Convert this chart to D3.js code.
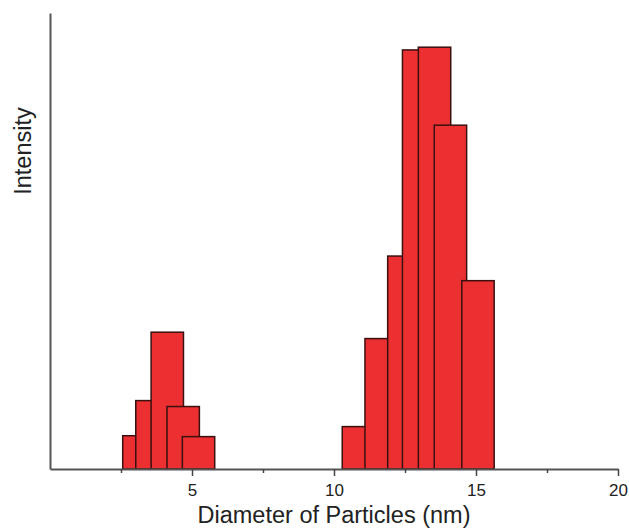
<!DOCTYPE html>
<html>
<head>
<meta charset="utf-8">
<script src="https://cdn.jsdelivr.net/npm/d3@7"></script>
<style>
  body { margin: 0; background: #fff; }
  text { font-family: "Liberation Sans", Arial, sans-serif; fill: #222; }
</style>
</head>
<body>
<script>
// particle size distribution (bar centres in nm, relative intensity)
var diameters = [3.13, 3.59, 4.13, 4.69, 5.23,
                 10.86, 11.66, 12.46, 12.98, 13.54, 14.10, 15.07];
var intensities = [7.3, 15.0, 30.0, 13.7, 7.1,
                   9.3, 28.6, 46.7, 91.9, 92.5, 75.4, 41.3];
var majorTicks = [5, 10, 15, 20];
var minorTicks = [2.5, 7.5, 12.5, 17.5];
var xTitle = "Diameter of Particles (nm)";
var yTitle = "Intensity";

var width = 629, height = 529;
var binWidth = 1.14;

var dataset = diameters.map(function(d, i) {
  return {diameter: d, intensity: intensities[i]};
});

var svg = d3.select("body")
  .append("svg")
  .attr("width", width)
  .attr("height", height);

var xScale = d3.scaleLinear().domain([0, 20]).range([50, 618]);
var yScale = d3.scaleLinear().domain([0, 100]).range([469, 13]);

// bars, drawn left to right so each one overlaps the previous
svg.selectAll("rect.bar")
  .data(dataset)
  .enter()
  .append("rect")
  .attr("class", "bar")
  .attr("x", function(d) { return xScale(d.diameter - binWidth / 2); })
  .attr("y", function(d) { return yScale(d.intensity); })
  .attr("width", function(d) { return xScale(binWidth) - xScale(0); })
  .attr("height", function(d) { return yScale(0) - yScale(d.intensity); })
  .attr("fill", "#ec2f30")
  .attr("stroke", "#3a1010")
  .attr("stroke-width", 1.5);

// x axis, major ticks with labels
var xAxis = svg.append("g")
  .attr("transform", "translate(0," + yScale(0) + ")")
  .call(d3.axisBottom(xScale)
    .tickValues(majorTicks)
    .tickSize(7)
    .tickPadding(8)
    .tickSizeOuter(0));
xAxis.select(".domain").attr("stroke", "#555").attr("stroke-width", 2);
xAxis.selectAll(".tick line").attr("stroke", "#444").attr("stroke-width", 1.5);
xAxis.selectAll(".tick text")
  .style("font-family", "Liberation Sans, Arial, sans-serif")
  .style("font-size", "17px")
  .attr("fill", "#222");

// minor ticks
var xMinor = svg.append("g")
  .attr("transform", "translate(0," + yScale(0) + ")")
  .call(d3.axisBottom(xScale)
    .tickValues(minorTicks)
    .tickSize(4)
    .tickFormat(""));
xMinor.select(".domain").remove();
xMinor.selectAll(".tick line").attr("stroke", "#444").attr("stroke-width", 1.5);

// y axis, line only
var yAxis = svg.append("g")
  .attr("transform", "translate(" + xScale(0) + ",0)")
  .call(d3.axisLeft(yScale).tickValues([]).tickSizeOuter(0));
yAxis.select(".domain").attr("stroke", "#555").attr("stroke-width", 2);

// axis titles
svg.append("text")
  .attr("x", 334)
  .attr("y", 523)
  .attr("text-anchor", "middle")
  .style("font-size", "23.5px")
  .text(xTitle);

svg.append("text")
  .attr("transform", "translate(31,151) rotate(-90)")
  .attr("text-anchor", "middle")
  .style("font-size", "23.5px")
  .text(yTitle);
</script>
</body>
</html>
